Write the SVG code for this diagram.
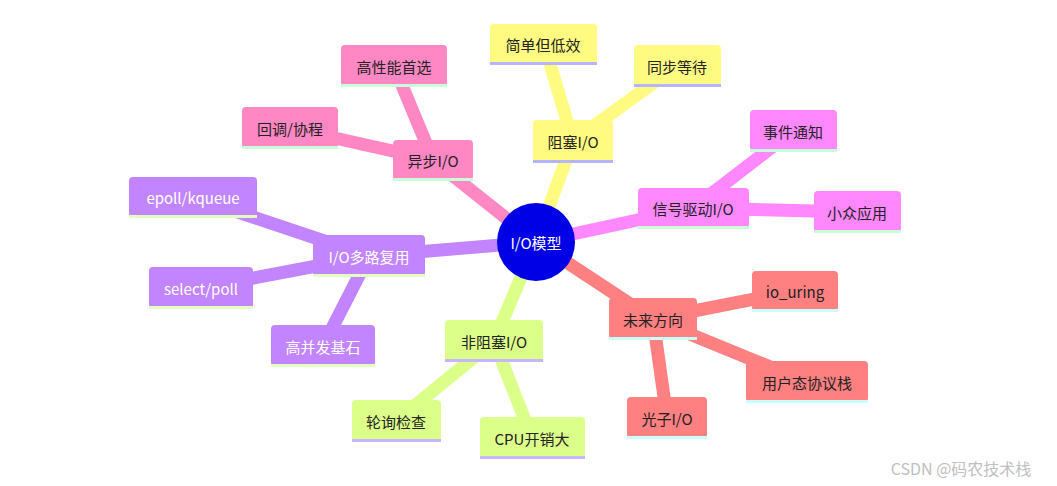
<svg xmlns="http://www.w3.org/2000/svg" width="1057" height="486" viewBox="0 0 1057 486">
<style>
text{font-family:"Noto Sans CJK SC","Noto Sans",sans-serif;font-size:15px;text-anchor:middle;dominant-baseline:central;fill:#222}
.w{fill:#fff}
.y{fill:#fffb80}.p{fill:#ff88c4}.m{fill:#ff88ff}.v{fill:#c285ff}.g{fill:#dcff8a}.r{fill:#ff8080}
.c path{fill:none;stroke-linecap:butt}
</style>
<rect width="1057" height="486" fill="#fff"/>
<g class="c">
<g stroke="#fffb80" stroke-width="13"><path d="M536 242L573 141"/><path d="M573 141L544 44"/><path d="M573 141L677 66"/></g>
<g stroke="#ff88c4" stroke-width="13"><path d="M536 242L433 160"/><path d="M433 160L394 66"/><path d="M433 160L290 128"/></g>
<g stroke="#ff88ff" stroke-width="13"><path d="M536 242L693 208"/><path d="M693 208L793 131"/><path d="M693 208L857 212"/></g>
<g stroke="#c285ff" stroke-width="13"><path d="M536 242L369 256"/><path d="M369 256L193 197"/><path d="M369 256L201 288"/><path d="M369 256L323 346"/></g>
<g stroke="#dcff8a" stroke-width="13"><path d="M536 242L494 341"/><path d="M494 341L396 421"/><path d="M494 341L532 438"/></g>
<g stroke="#ff8080" stroke-width="13"><path d="M536 242L653 319"/><path d="M653 319L795 291"/><path d="M653 319L807 382"/><path d="M653 319L667 418"/></g>
</g>
<g id="center"><circle cx="536" cy="242" r="39" fill="#0000e6"/><text class="w" x="536" y="242" font-size="16">I/O模型</text></g>
<g id="n1"><rect class="y" x="533" y="120" width="80" height="42" rx="4"/><rect x="533" y="160" width="80" height="3" fill="#b4b4ff"/><text x="573" y="141">阻塞I/O</text></g>
<g id="n1a"><rect class="y" x="490" y="24" width="107" height="40" rx="4"/><rect x="490" y="62" width="107" height="3" fill="#b4b4ff"/><text x="543" y="44">简单但低效</text></g>
<g id="n1b"><rect class="y" x="634" y="45" width="87" height="41" rx="4"/><rect x="634" y="84" width="87" height="3" fill="#b4b4ff"/><text x="677" y="66">同步等待</text></g>
<g id="n2"><rect class="p" x="393" y="140" width="80" height="40" rx="4"/><rect x="393" y="178" width="80" height="3" fill="#c8ffd8"/><text x="433" y="160">异步I/O</text></g>
<g id="n2a"><rect class="p" x="341" y="45" width="106" height="41" rx="4"/><rect x="341" y="84" width="106" height="3" fill="#c8ffd8"/><text x="394" y="66">高性能首选</text></g>
<g id="n2b"><rect class="p" x="242" y="107" width="96" height="41" rx="4"/><rect x="242" y="146" width="96" height="3" fill="#c8ffd8"/><text x="290" y="128">回调/协程</text></g>
<g id="n3"><rect class="m" x="638" y="188" width="111" height="40" rx="4"/><rect x="638" y="226" width="111" height="3" fill="#c8ffd8"/><text x="693" y="208">信号驱动I/O</text></g>
<g id="n3a"><rect class="m" x="750" y="110" width="87" height="41" rx="4"/><rect x="750" y="149" width="87" height="3" fill="#c8ffd8"/><text x="793" y="131">事件通知</text></g>
<g id="n3b"><rect class="m" x="814" y="191" width="87" height="41" rx="4"/><rect x="814" y="230" width="87" height="3" fill="#c8ffd8"/><text x="857" y="212">小众应用</text></g>
<g id="n4"><rect class="v" x="313" y="235" width="112" height="41" rx="4"/><rect x="313" y="274" width="112" height="3" fill="#e0ffc0"/><text class="w" x="369" y="256">I/O多路复用</text></g>
<g id="n4a"><rect class="v" x="129" y="177" width="128" height="40" rx="4"/><rect x="129" y="215" width="128" height="3" fill="#e0ffc0"/><text class="w" x="193" y="197">epoll/kqueue</text></g>
<g id="n4b"><rect class="v" x="149" y="267" width="104" height="41" rx="4"/><rect x="149" y="306" width="104" height="3" fill="#e0ffc0"/><text class="w" x="201" y="288">select/poll</text></g>
<g id="n4c"><rect class="v" x="271" y="325" width="104" height="41" rx="4"/><rect x="271" y="364" width="104" height="3" fill="#e0ffc0"/><text class="w" x="323" y="346">高并发基石</text></g>
<g id="n5"><rect class="g" x="445" y="320" width="98" height="41" rx="4"/><rect x="445" y="359" width="98" height="3" fill="#c8b4ff"/><text x="494" y="341">非阻塞I/O</text></g>
<g id="n5a"><rect class="g" x="352" y="400" width="89" height="41" rx="4"/><rect x="352" y="439" width="89" height="3" fill="#c8b4ff"/><text x="396" y="421">轮询检查</text></g>
<g id="n5b"><rect class="g" x="480" y="417" width="105" height="41" rx="4"/><rect x="480" y="456" width="105" height="3" fill="#c8b4ff"/><text x="532" y="438">CPU开销大</text></g>
<g id="n6"><rect class="r" x="609" y="298" width="88" height="41" rx="4"/><rect x="609" y="337" width="88" height="3" fill="#c8ffff"/><text x="653" y="319">未来方向</text></g>
<g id="n6a"><rect class="r" x="752" y="271" width="86" height="40" rx="4"/><rect x="752" y="309" width="86" height="3" fill="#c8ffff"/><text x="795" y="291">io_uring</text></g>
<g id="n6b"><rect class="r" x="746" y="361" width="122" height="41" rx="4"/><rect x="746" y="400" width="122" height="3" fill="#c8ffff"/><text x="807" y="382">用户态协议栈</text></g>
<g id="n6c"><rect class="r" x="627" y="397" width="80" height="41" rx="4"/><rect x="627" y="436" width="80" height="3" fill="#c8ffff"/><text x="667" y="418">光子I/O</text></g>
<text x="961" y="468" style="fill:#c0c0c0;font-size:16px">CSDN @码农技术栈</text>
</svg>
